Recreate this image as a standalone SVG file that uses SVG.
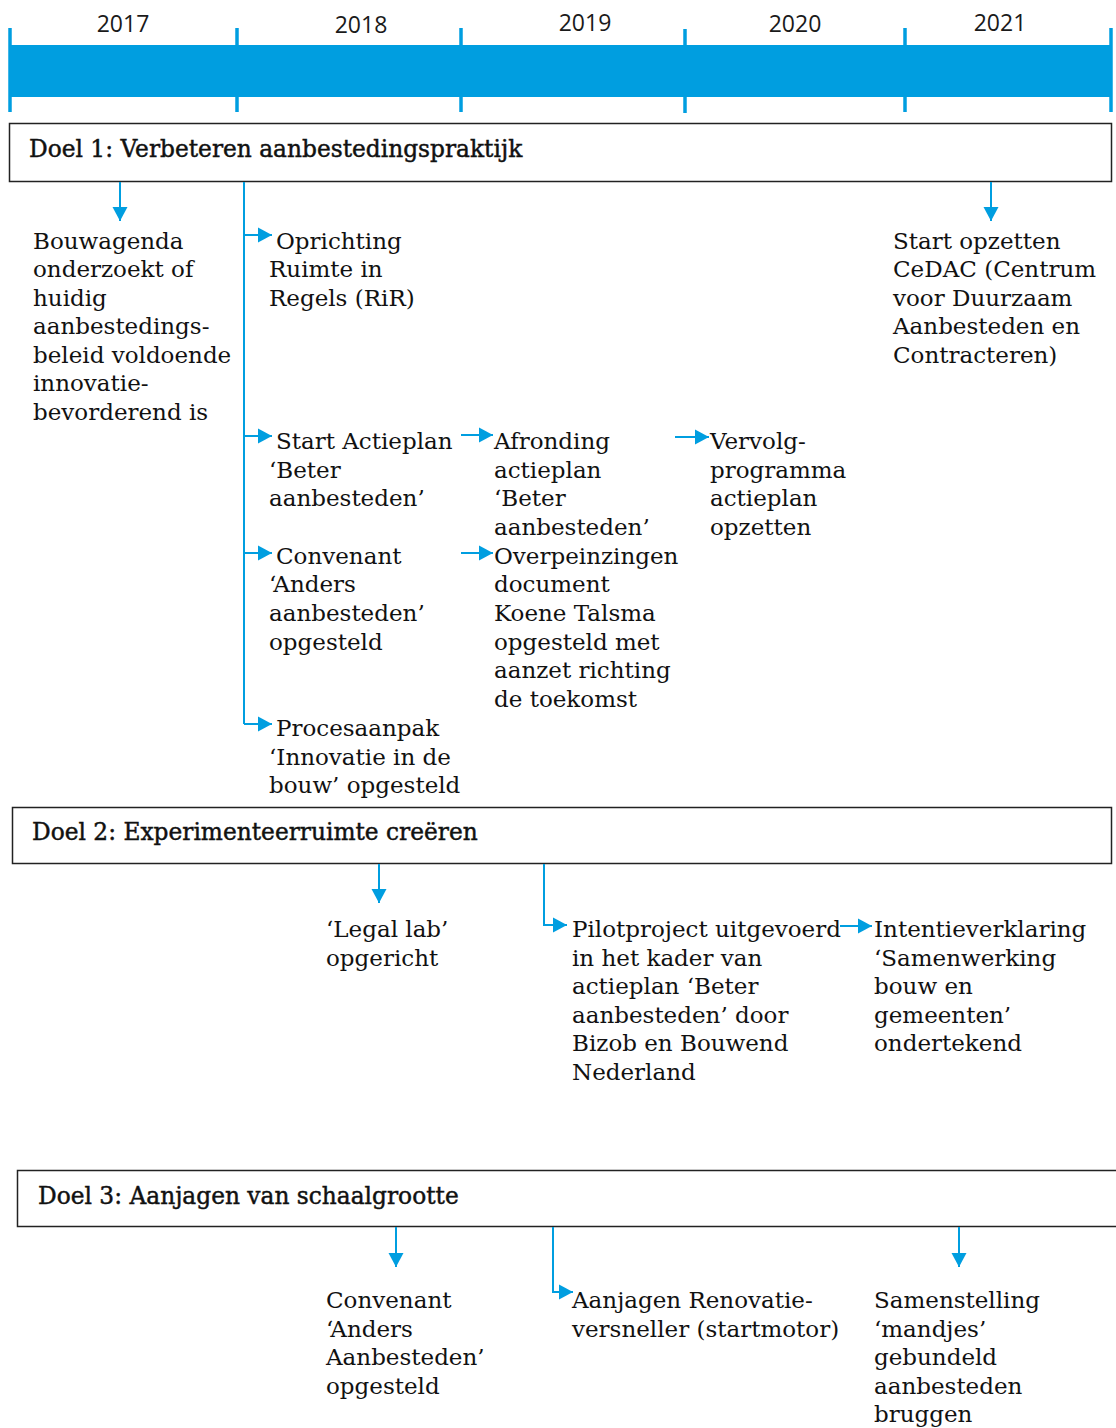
<svg xmlns="http://www.w3.org/2000/svg" width="1116" height="1428" viewBox="0 0 1116 1428">
  <style>
    .year { font-family: "Open Sans", "Liberation Sans", sans-serif; font-size: 23px; fill: #1a1a1a; text-anchor: middle; }
    .goal { fill: #ffffff; stroke: #222222; stroke-width: 1.5; }
    .goaltxt { font-family: "DejaVu Serif", "Liberation Serif", serif; font-size: 23.3px; fill: #111111; stroke: #111111; stroke-width: 0.45; }
    .txt { font-family: "DejaVu Serif", "Liberation Serif", serif; font-size: 23px; fill: #111111; }
    .conn { fill: none; stroke: #009EE0; stroke-width: 2; }
    .tick { stroke: #009EE0; stroke-width: 3.5; }
  </style>
  <defs>
    <marker id="arrow" markerUnits="userSpaceOnUse" markerWidth="18" markerHeight="18" viewBox="0 0 18 18" refX="16" refY="9" orient="auto">
      <path d="M2,1.5 L16,9 L2,16.5 Z" fill="#009EE0"/>
    </marker>
  </defs>
  <rect width="1116" height="1428" fill="#ffffff"/>

  <!-- timeline -->
  <g id="timeline">
    <rect x="10" y="45" width="1102" height="52" fill="#009EE0"/>
    <line class="tick" x1="10" y1="28" x2="10" y2="112"/>
    <line class="tick" x1="237" y1="28" x2="237" y2="112"/>
    <line class="tick" x1="461" y1="28" x2="461" y2="112"/>
    <line class="tick" x1="685" y1="29" x2="685" y2="113"/>
    <line class="tick" x1="905" y1="28" x2="905" y2="112"/>
    <line class="tick" x1="1111" y1="28" x2="1111" y2="112"/>
    <text class="year" x="123" y="32">2017</text>
    <text class="year" x="361" y="33">2018</text>
    <text class="year" x="585" y="31">2019</text>
    <text class="year" x="795" y="32">2020</text>
    <text class="year" x="1000" y="31">2021</text>
  </g>

  <!-- goal headers -->
  <g id="doel1">
    <rect class="goal" x="9.5" y="123.5" width="1102" height="58"/>
    <text class="goaltxt" x="29" y="157">Doel 1: Verbeteren aanbestedingspraktijk</text>
  </g>
  <g id="doel2">
    <rect class="goal" x="12.5" y="807.5" width="1099" height="56"/>
    <text class="goaltxt" x="32" y="840">Doel 2: Experimenteerruimte creëren</text>
  </g>
  <g id="doel3">
    <rect class="goal" x="17.5" y="1170.5" width="1110" height="56"/>
    <text class="goaltxt" x="38" y="1204">Doel 3: Aanjagen van schaalgrootte</text>
  </g>

  <!-- connectors -->
  <g id="connectors">
    <!-- goal 1 -->
    <path class="conn" d="M120,182 V221" marker-end="url(#arrow)"/>
    <path class="conn" d="M244,182 V724"/>
    <path class="conn" d="M244,235 H272" marker-end="url(#arrow)"/>
    <path class="conn" d="M244,436 H272" marker-end="url(#arrow)"/>
    <path class="conn" d="M244,553 H272" marker-end="url(#arrow)"/>
    <path class="conn" d="M244,724 H272" marker-end="url(#arrow)"/>
    <path class="conn" d="M461,435 H493" marker-end="url(#arrow)"/>
    <path class="conn" d="M461,553 H493" marker-end="url(#arrow)"/>
    <path class="conn" d="M675,437 H709" marker-end="url(#arrow)"/>
    <path class="conn" d="M991,182 V221" marker-end="url(#arrow)"/>
    <!-- goal 2 -->
    <path class="conn" d="M379,864 V903" marker-end="url(#arrow)"/>
    <path class="conn" d="M544,864 V925 H567" marker-end="url(#arrow)"/>
    <path class="conn" d="M840,926 H872" marker-end="url(#arrow)"/>
    <!-- goal 3 -->
    <path class="conn" d="M396,1227 V1267" marker-end="url(#arrow)"/>
    <path class="conn" d="M553,1227 V1292 H573" marker-end="url(#arrow)"/>
    <path class="conn" d="M959,1227 V1267" marker-end="url(#arrow)"/>
  </g>

  <!-- milestones goal 1 -->
  <g id="bouwagenda">
    <text class="txt" x="33" y="249">Bouwagenda</text>
    <text class="txt" x="33" y="277">onderzoekt of</text>
    <text class="txt" x="33" y="306">huidig</text>
    <text class="txt" x="33" y="334">aanbestedings-</text>
    <text class="txt" x="33" y="363">beleid voldoende</text>
    <text class="txt" x="33" y="391">innovatie-</text>
    <text class="txt" x="33" y="420">bevorderend is</text>
  </g>
  <g id="oprichting-rir">
    <text class="txt" x="276" y="249">Oprichting</text>
    <text class="txt" x="269" y="277">Ruimte in</text>
    <text class="txt" x="269" y="306">Regels (RiR)</text>
  </g>
  <g id="start-actieplan">
    <text class="txt" x="276" y="449">Start Actieplan</text>
    <text class="txt" x="269" y="478">‘Beter</text>
    <text class="txt" x="269" y="506">aanbesteden’</text>
  </g>
  <g id="afronding-actieplan">
    <text class="txt" x="494" y="449">Afronding</text>
    <text class="txt" x="494" y="478">actieplan</text>
    <text class="txt" x="494" y="506">‘Beter</text>
    <text class="txt" x="494" y="535">aanbesteden’</text>
  </g>
  <g id="vervolgprogramma">
    <text class="txt" x="710" y="449">Vervolg-</text>
    <text class="txt" x="710" y="478">programma</text>
    <text class="txt" x="710" y="506">actieplan</text>
    <text class="txt" x="710" y="535">opzetten</text>
  </g>
  <g id="convenant-1">
    <text class="txt" x="276" y="564">Convenant</text>
    <text class="txt" x="269" y="592">‘Anders</text>
    <text class="txt" x="269" y="621">aanbesteden’</text>
    <text class="txt" x="269" y="650">opgesteld</text>
  </g>
  <g id="overpeinzingen">
    <text class="txt" x="494" y="564">Overpeinzingen</text>
    <text class="txt" x="494" y="592">document</text>
    <text class="txt" x="494" y="621">Koene Talsma</text>
    <text class="txt" x="494" y="650">opgesteld met</text>
    <text class="txt" x="494" y="678">aanzet richting</text>
    <text class="txt" x="494" y="707">de toekomst</text>
  </g>
  <g id="procesaanpak">
    <text class="txt" x="276" y="736">Procesaanpak</text>
    <text class="txt" x="269" y="765">‘Innovatie in de</text>
    <text class="txt" x="269" y="793">bouw’ opgesteld</text>
  </g>
  <g id="cedac">
    <text class="txt" x="893" y="249">Start opzetten</text>
    <text class="txt" x="893" y="277">CeDAC (Centrum</text>
    <text class="txt" x="893" y="306">voor Duurzaam</text>
    <text class="txt" x="893" y="334">Aanbesteden en</text>
    <text class="txt" x="893" y="363">Contracteren)</text>
  </g>

  <!-- milestones goal 2 -->
  <g id="legal-lab">
    <text class="txt" x="326" y="937">‘Legal lab’</text>
    <text class="txt" x="326" y="966">opgericht</text>
  </g>
  <g id="pilotproject">
    <text class="txt" x="572" y="937">Pilotproject uitgevoerd</text>
    <text class="txt" x="572" y="966">in het kader van</text>
    <text class="txt" x="572" y="994">actieplan ‘Beter</text>
    <text class="txt" x="572" y="1023">aanbesteden’ door</text>
    <text class="txt" x="572" y="1051">Bizob en Bouwend</text>
    <text class="txt" x="572" y="1080">Nederland</text>
  </g>
  <g id="intentieverklaring">
    <text class="txt" x="874" y="937">Intentieverklaring</text>
    <text class="txt" x="874" y="966">‘Samenwerking</text>
    <text class="txt" x="874" y="994">bouw en</text>
    <text class="txt" x="874" y="1023">gemeenten’</text>
    <text class="txt" x="874" y="1051">ondertekend</text>
  </g>

  <!-- milestones goal 3 -->
  <g id="convenant-2">
    <text class="txt" x="326" y="1308">Convenant</text>
    <text class="txt" x="326" y="1337">‘Anders</text>
    <text class="txt" x="326" y="1365">Aanbesteden’</text>
    <text class="txt" x="326" y="1394">opgesteld</text>
  </g>
  <g id="renovatieversneller">
    <text class="txt" x="572" y="1308">Aanjagen Renovatie-</text>
    <text class="txt" x="572" y="1337">versneller (startmotor)</text>
  </g>
  <g id="mandjes">
    <text class="txt" x="874" y="1308">Samenstelling</text>
    <text class="txt" x="874" y="1337">‘mandjes’</text>
    <text class="txt" x="874" y="1365">gebundeld</text>
    <text class="txt" x="874" y="1394">aanbesteden</text>
    <text class="txt" x="874" y="1422">bruggen</text>
  </g>
</svg>
